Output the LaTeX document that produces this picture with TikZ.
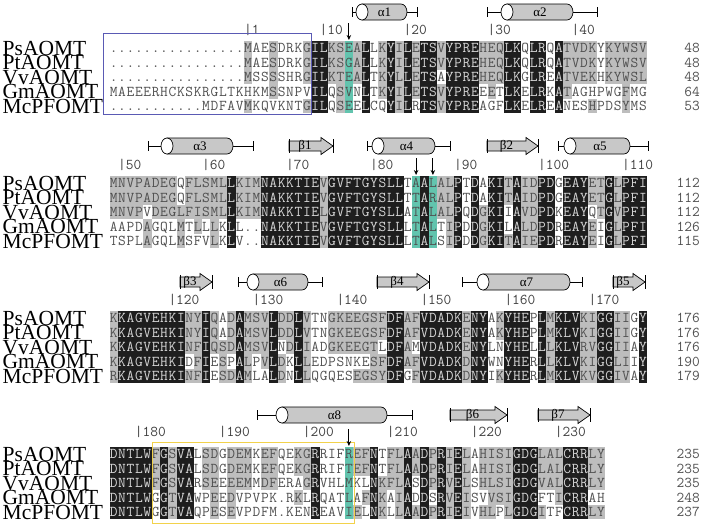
\documentclass[tikz,border=0pt]{standalone}
\usepackage{fontspec}
\usepackage{xcolor}
\usepackage{tikz}
\usetikzlibrary{arrows.meta}
\newfontfamily\namefont{Liberation Serif}
\definecolor{idBlack}{HTML}{1E1E1E}
\definecolor{simGray}{HTML}{BDBDBD}
\definecolor{siteTeal}{HTML}{62C4AE}
\definecolor{resGray}{HTML}{505050}
\definecolor{idText}{HTML}{D6D6D6}
\definecolor{ssGray}{HTML}{C8C8C8}
\definecolor{boxBlue}{HTML}{5A5AB4}
\definecolor{boxYellow}{HTML}{F2D24B}
\tikzset{
  idbox/.style={fill=idBlack},
  simbox/.style={fill=simGray},
  sitebox/.style={fill=siteTeal},
  restext/.style={font={\fontsize{15}{15}\selectfont\ttfamily},text=resGray,inner sep=0pt,anchor=base},
  seqname/.style={font={\fontsize{21.5}{22}\namefont},inner sep=0pt,anchor=base west},
  seqend/.style={font={\fontsize{15}{15}\selectfont\ttfamily},text=resGray,inner sep=0pt,anchor=base east},
  poslabel/.style={font={\fontsize{15}{15}\selectfont\ttfamily},text=black!75,inner sep=0pt,anchor=base west},
  sslabel/.style={font={\fontsize{13}{13}\namefont},inner sep=0pt},
  ssshape/.style={draw=black,line width=0.7pt,fill=ssGray},
  ssline/.style={draw=black,line width=0.7pt},
  sitearrow/.style={-{Stealth[length=5pt,width=4.5pt]},line width=1pt},
  regionbox/.style={line width=0.7pt},
}
% grid of the alignment (1 unit = 1 pixel)
\newcommand{\seqx}{109.5}
\newcommand{\seqpitch}{8.4}
\newcommand{\cellh}{14.5}
\newcommand{\basedrop}{4.6}
% one alignment row: tag, y, residues, shading (k identical, g similar, t site, . none)
\makeatletter
\newcount\aln@col
\newcommand{\alnrow}[4]{%
  \def\aln@tag{#1}\def\aln@y{#2}%
  \global\aln@col=0 \aln@store#4\relax
  \global\aln@col=0 \aln@res#3\relax}
\def\aln@store#1{\ifx#1\relax\else
  \global\advance\aln@col by 1
  \expandafter\xdef\csname aln@s\the\aln@col\endcsname{#1}%
  \expandafter\aln@store\fi}
\def\aln@res#1{\ifx#1\relax\else
  \global\advance\aln@col by 1
  \aln@cell{#1}%
  \expandafter\aln@res\fi}
\def\aln@cell#1{%
  \pgfmathsetmacro\aln@x{\seqx+(\the\aln@col-1)*\seqpitch}%
  \edef\aln@code{\csname aln@s\the\aln@col\endcsname}%
  \if k\aln@code
    \fill[idbox] (\aln@x,\aln@y-\cellh/2) rectangle ++(\seqpitch,\cellh);
    \node[restext,text=idText] (\aln@tag-\the\aln@col) at (\aln@x+\seqpitch/2,\aln@y+\basedrop) {#1};
  \else\if g\aln@code
    \fill[simbox] (\aln@x,\aln@y-\cellh/2) rectangle ++(\seqpitch,\cellh);
    \node[restext] (\aln@tag-\the\aln@col) at (\aln@x+\seqpitch/2,\aln@y+\basedrop) {#1};
  \else\if t\aln@code
    \fill[sitebox] (\aln@x,\aln@y-\cellh/2) rectangle ++(\seqpitch,\cellh);
    \node[restext] (\aln@tag-\the\aln@col) at (\aln@x+\seqpitch/2,\aln@y+\basedrop) {#1};
  \else
    \node[restext] (\aln@tag-\the\aln@col) at (\aln@x+\seqpitch/2,\aln@y+\basedrop) {#1};
  \fi\fi\fi}
\makeatother
% helix: name, y, left tick, cylinder start, cylinder end, right tick, label
\newcommand{\sshelix}[7]{%
  \draw[ssline] (#3,#2-5) -- (#3,#2+5) (#3,#2) -- (#4-6,#2) (#5,#2) -- (#6,#2) (#6,#2-5) -- (#6,#2+5);
  \draw[ssshape] (#4,#2-8) -- (#5-6,#2-8) arc[start angle=-90,end angle=90,x radius=6,y radius=8] -- (#4,#2+8) -- cycle;
  \draw[ssline,fill=white] (#4,#2) ellipse[x radius=6,y radius=8];
  \node[sslabel] (#1) at ({(#4+#5)/2},#2) {#7};}
% strand: name, y, left end, tip, label
\newcommand{\ssstrand}[5]{%
  \draw[ssshape] (#3,#2-5) -- (#4-12,#2-5) -- (#4-12,#2-8.5) -- (#4,#2) -- (#4-12,#2+8.5) -- (#4-12,#2+5) -- (#3,#2+5) -- cycle;
  \draw[ssline] (#3,#2-7) -- (#3,#2+7) (#4,#2-7) -- (#4,#2+7);
  \node[sslabel] (#1) at ({(#3+#4-12)/2},#2) {#5};}

\begin{document}
\begin{tikzpicture}[x=1pt,y=-1pt]
\useasboundingbox (0,0) rectangle (702,528);

% sequence names, four blocks
\foreach \b/\y in {1/48,2/183,3/318,4/454}
  \foreach \nm [count=\i from 0] in {PsAOMT,PtAOMT,VvAOMT,GmAOMT,McPFOMT}
    \node[seqname] (n\b-\i) at (2.5,\y+\i*\cellh+7.1) {\nm};

% block 1
\sshelix{a1}{12}{352}{362}{407}{417}{α1}
\sshelix{a2}{12}{487}{507}{573}{597}{α2}
\foreach \c/\t in {17/1,26/10,36/20,46/30,56/40}
  \node[poslabel] (p\t) at ({\seqx+(\c-1)*\seqpitch},34.6) {|\t};
\alnrow{b1ps}{48}{................MAESDRKGILKSEALLKYILETSVYPREHEQLKQLRQATVDKYKYWSV}
  {.......... ......g..g ...gkkggtg k.gkgkgkkg kkkkgggkk. kk.kgggg.g gggg}
\alnrow{b1pt}{62.5}{................MAESDRKGILKSGALLKYILETSVYPREHEQLKQLRQATVDKYKYWSV}
  {.......... ......g..g ...gkkggtg k.gkgkgkkg kkkkgggkk. kk.kgggg.g gggg}
\alnrow{b1vv}{77}{................MSSSSHRGILKTEALTKYLLETSAYPREHEQLKGLREATVEKHKYWSL}
  {.......... ......g..g ...gkkggtg k.gkgkgkk. kkkkgggkk. kk.kgggg.g gggg}
\alnrow{b1gm}{91.5}{MAEEERHCKSKRGLTKHKMSSNPVILQSVNLTKYILETSVYPREEETLKELRKATAGHPWGFMG}
  {.......... .........g ....kk.gt. k.gkgkgkkg kkkk.g.kk. kk.kg..... .g..}
\alnrow{b1mc}{106}{...........MDFAVMKQVKNTGILQSEELCQYILRTSVYPREAGFLKELREANESHPDSYMS}
  {.......... ......g... ...gkk.gt. k..kgk.kkg kkkk...kk. kk.k...g.. .g..}
\foreach \v [count=\i from 0] in {48,48,48,64,53}
  \node[seqend] (e1-\i) at (700,48+\i*\cellh+\basedrop) {\v};
\draw[regionbox,boxBlue] (103,33) rectangle (311,114);
\coordinate (s1a) at ({\seqx+28.5*\seqpitch},23);
\coordinate (s1b) at ({\seqx+28.5*\seqpitch},40);
\draw[sitearrow] (s1a) -- (s1b);

% block 2
\sshelix{a3}{146}{148}{167}{233}{253}{α3}
\ssstrand{b1}{146}{289}{333}{β1}
\sshelix{a4}{146}{367}{378}{435}{450}{α4}
\ssstrand{b2}{146}{487}{538}{β2}
\sshelix{a5}{146}{558}{570}{630}{648}{α5}
\foreach \c/\t in {2/50,12/60,22/70,32/80,42/90,52/100,62/110}
  \node[poslabel] (p\t) at ({\seqx+(\c-1)*\seqpitch},169.6) {|\t};
\alnrow{b2ps}{183}{MNVPADEGQFLSMLLKIMNAKKTIEVGVFTGYSLLTAALALPTDAKITAIDPDGEAYETGLPFI}
  {gggggggg.g ggggkgggkk kkkkkgkkkk kkkkk.tktg gk.k.kkgkg gkk.kkkggk gkkk}
\alnrow{b2pt}{197.5}{MNVPADEGQFLSMLLKIMNAKKTIEVGVFTGYSLLTTARALPTDAKITAIDPDGEAYETGLPFI}
  {gggggggg.g ggggkgggkk kkkkkgkkkk kkkkk.tktg gk.k.kkgkg gkk.kkkggk gkkk}
\alnrow{b2vv}{212}{MNVPVDEGLFISMLLKIMNAKKTIELGVFTGYSLLATALALPQDGKIIAVDPDKEAYQTGVPFI}
  {gggg.ggggg ggggkgggkk kkkkkgkkkk kkkkk.tktg gk.kgkk.kg gkk.kkk.gk gkkk}
\alnrow{b2gm}{226.5}{AAPDAGQLMTLLLKLL..NAKKTIEVGVFTGYSLLLTALTIPDDGKILALDPDREAYEIGLPFI}
  {....g...g. g.g.k...kk kkkkkgkkkk kkkkk.tkt. gk.kgkk.kg gkk.kkkg.k gkkk}
\alnrow{b2mc}{241}{TSPLAGQLMSFVLKLV..NAKKTIEVGVFTGYSLLLTALSIPDDGKITAIEPDREAYEIGLPFI}
  {....g...g. ..g.k...kk kkkkkgkkkk kkkkk.tkt. gk.kgkkgkg gkk.kkkg.k gkkk}
\foreach \v [count=\i from 0] in {112,112,112,126,115}
  \node[seqend] (e2-\i) at (700,183+\i*\cellh+\basedrop) {\v};
\coordinate (s2a) at ({\seqx+36.5*\seqpitch},158);
\coordinate (s2b) at ({\seqx+36.5*\seqpitch},175);
\coordinate (s3a) at ({\seqx+38.5*\seqpitch},158);
\coordinate (s3b) at ({\seqx+38.5*\seqpitch},175);
\draw[sitearrow] (s2a) -- (s2b);
\draw[sitearrow] (s3a) -- (s3b);

% block 3
\ssstrand{b3}{282}{180}{212}{β3}
\sshelix{a6}{282}{238}{253}{308}{322}{α6}
\ssstrand{b4}{282}{377}{429}{β4}
\sshelix{a7}{282}{462}{483}{570}{582}{α7}
\ssstrand{b5}{282}{613}{645}{β5}
\foreach \c/\t in {8/120,18/130,28/140,38/150,48/160,58/170}
  \node[poslabel] (p\t) at ({\seqx+(\c-1)*\seqpitch},304.6) {|\t};
\alnrow{b3ps}{318}{KKAGVEHKINYIQADAMSVLDDLVTNGKEEGSFDFAFVDADKENYAKYHEPLMKLVKIGGIIGY}
  {gkkkkkkkkg gkg.gkgggk ggkg..gggg gggkkggkkk kkgkk.gkkk .kgkkkggkk gg.k}
\alnrow{b3pt}{332.5}{KKAGVEHKINYIQADAMSVLDDLVTNGKEEGSFDFAFVDADKENYAKYHEPLMKLVKIGGIIGY}
  {gkkkkkkkkg gkg.gkgggk ggkg..gggg gggkkggkkk kkgkk.gkkk .kgkkkggkk gg.k}
\alnrow{b3vv}{347}{KKAGVEHKINFIQSDAMSVLNDLIADGKEEGTLDFAMVDADKENYLNYHELLLKLVRVGGIIAY}
  {gkkkkkkkkg gkgggkgggk .gkg..gggg gg.kkg.kkk kkgkk..kkk .kgkkkggkk gg.k}
\alnrow{b3gm}{361.5}{KKAGVEHKIDFIESPALPVLDKLLEDPSNKESFDFAFVDADKDNYWNYHERLLKLVKIGGLIIY}
  {gkkkkkkkk. gk.g.kg.gk g.kg...... .ggkkggkkk kkgkk..kkk .kgkkkggkk gg.k}
\alnrow{b3mc}{376}{RKAGVEHKINFIESDAMLALDNLLQGQESEGSYDFGFVDADKDNYIKYHERLMKLVKVGGIVAY}
  {gkkkkkkkkg gk.ggkg..k g.kg.....g gggkk.gkkk kkgkk.gkkk .kgkkkggkk gg.k}
\foreach \v [count=\i from 0] in {176,176,176,190,179}
  \node[seqend] (e3-\i) at (700,318+\i*\cellh+\basedrop) {\v};

% block 4
\sshelix{a8}{415}{257}{282}{387}{412}{α8}
\ssstrand{b6}{415}{450}{507}{β6}
\ssstrand{b7}{415}{538}{590}{β7}
\foreach \c/\t in {4/180,14/190,24/200,34/210,44/220,54/230}
  \node[poslabel] (p\t) at ({\seqx+(\c-1)*\seqpitch},436.6) {|\t};
\alnrow{b4ps}{454}{DNTLWFGSVALSDGDEMKEFQEKGRRIFREFNTFLAADPRIELAHISIGDGLALCRRLY}
  {kkkkkgkgkk .gg.ggg.gg ..ggk...tg gk.ggkgkgk gkg.ggggkk kgggkkkgg}
\alnrow{b4pt}{468.5}{DNTLWFGSVALSDGDEMKEFQEKGRRIFTEFNTFLAADPRIELAHISIGDGLALCRRLY}
  {kkkkkgkgkk .gg.ggg.gg ..ggk...tg gk.ggkgkgk gkg.ggggkk kgggkkkgg}
\alnrow{b4vv}{483}{DNTLWFGSVARSEEEEMMDFERAGRVHLMKLNKFLASDPRVELSHLSIGDGVALCRRLY}
  {kkkkkgkgkk .gg.ggg.gg ...gk...t. .kgggk.kgk gkg.ggggkk kgggkkkgg}
\alnrow{b4gm}{497.5}{DNTLWGGTVAWPEEDVPVPK.RKLRQATLAFNKAIADDSRVEISVVSIGDGFTICRRAH}
  {kkkkk.kgkk ..g.g..... ..g.k...t. gkg.gk.k.k gkg..gggkk k..gkkk..}
\alnrow{b4mc}{512}{DNTLWGGTVAQPESEVPDFM.KENREAVIELNKLLAADPRIEIVHLPLGDGITFCRRLY}
  {kkkkk.kgkk ..g.g..... ....k...tg .kg.gkgkgk gkg.gg.gkk kg..kkkgg}
\foreach \v [count=\i from 0] in {235,235,235,248,237}
  \node[seqend] (e4-\i) at (700,454+\i*\cellh+\basedrop) {\v};
\draw[regionbox,boxYellow] (152,442) rectangle (354.5,523);
\coordinate (s4a) at ({\seqx+28.5*\seqpitch},429);
\coordinate (s4b) at ({\seqx+28.5*\seqpitch},446);
\draw[sitearrow] (s4a) -- (s4b);
\end{tikzpicture}
\end{document}
